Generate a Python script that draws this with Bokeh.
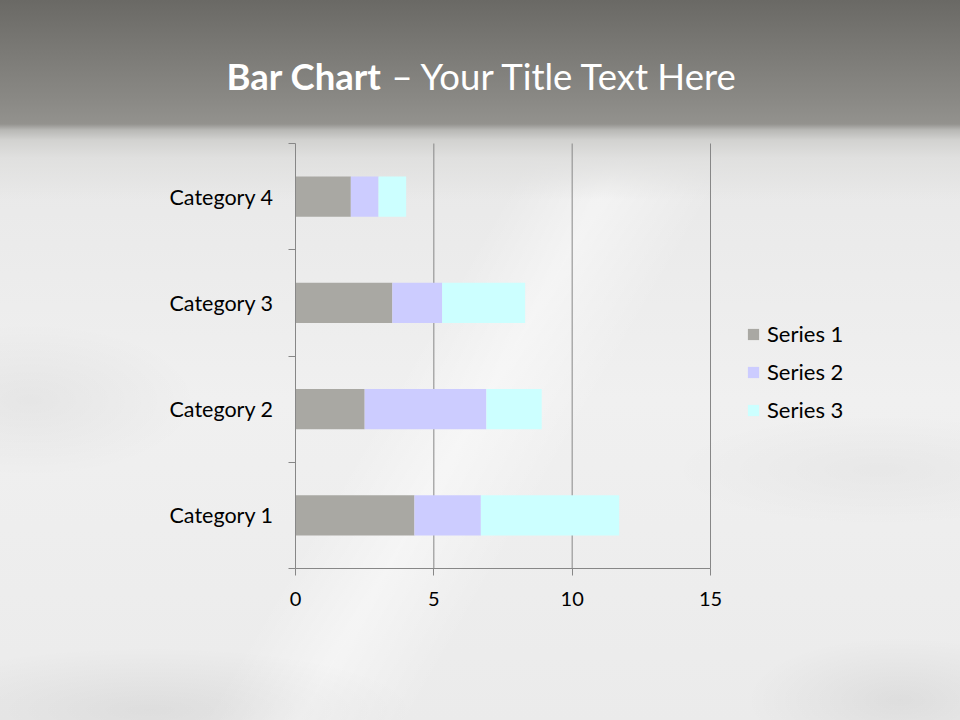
from bokeh.plotting import figure
from bokeh.models import (Range1d, FixedTicker, Label, Legend, LegendItem,
                          ColumnDataSource, GlobalInlineStyleSheet)
from bokeh.embed import file_html
from bokeh.resources import INLINE

# ---- data ----
categories = ["Category 1", "Category 2", "Category 3", "Category 4"]
series_names = ["Series 1", "Series 2", "Series 3"]
series_1 = [4.3, 2.5, 3.5, 2.0]
series_2 = [2.4, 4.4, 1.8, 1.0]
series_3 = [5.0, 2.0, 3.0, 1.0]
x_ticks = [0, 5, 10, 15]
title_bold = "Bar Chart"
title_rest = "\u2013 Your Title Text Here"

# ---- style / layout constants ----
colors = ["#a9a8a3", "#ccccff", "#ccffff"]
AXIS = "#878787"
FONT = "Lato"
W, H = 960, 720
FL, FR, FT, FB = 295, 710, 143, 568  # plot-area edges in canvas pixels

n_cat = len(categories)
x_lo, x_hi = x_ticks[0], x_ticks[-1]
px_x = (FR - FL) / (x_hi - x_lo)
px_y = (FB - FT) / n_cat

src = ColumnDataSource(data={
    "y": [i + 0.5 for i in range(n_cat)],
    series_names[0]: series_1,
    series_names[1]: series_2,
    series_names[2]: series_3,
})

# the frame covers the whole canvas; ranges are chosen so that the
# data area lands on the plot-area pixels
p = figure(width=W, height=H, output_backend="svg", toolbar_location=None,
           x_range=Range1d(x_lo - FL / px_x, x_hi + (W - FR) / px_x),
           y_range=Range1d(0 - (H - FB) / px_y, n_cat + FT / px_y),
           min_border=0)
p.title.visible = False

# vertical gridlines (at the x ticks, spanning the category band)
grid_x = x_ticks[1:]
p.segment(x0=grid_x, y0=[0] * len(grid_x), x1=grid_x, y1=[n_cat] * len(grid_x),
          line_color=AXIS, line_width=1)

renderers = p.hbar_stack(series_names, y="y", height=0.38, color=colors,
                         line_color=None, source=src)

# axes
xa = p.xaxis[0]
xa.fixed_location = 0
xa.bounds = (x_lo, x_hi)
xa.ticker = FixedTicker(ticks=x_ticks)
xa.axis_line_color = AXIS
xa.major_tick_line_color = AXIS
xa.major_tick_out = 7
xa.major_tick_in = 0
xa.minor_tick_line_color = None
xa.major_label_standoff = 16
xa.major_label_text_font = FONT
xa.major_label_text_font_size = "20px"
xa.major_label_text_color = "#000000"

centers = [i + 0.5 for i in range(n_cat)]
bounds = [float(i) for i in range(n_cat + 1)]
ya = p.yaxis[0]
ya.fixed_location = 0
ya.bounds = (0, n_cat)
ya.ticker = FixedTicker(ticks=centers, minor_ticks=bounds)
ya.major_label_overrides = {c: name for c, name in zip(centers, categories)}
ya.axis_line_color = AXIS
ya.major_tick_line_color = None
ya.major_tick_out = 0
ya.major_tick_in = 0
ya.minor_tick_line_color = AXIS
ya.minor_tick_out = 7
ya.minor_tick_in = 0
ya.major_label_standoff = 15
ya.major_label_text_font = FONT
ya.major_label_text_font_size = "21.5px"
ya.major_label_text_color = "#000000"

p.xgrid.visible = False
p.ygrid.visible = False

p.outline_line_color = None
p.background_fill_color = None
p.border_fill_color = None

# legend
legend = Legend(items=[LegendItem(label=n, renderers=[r])
                       for n, r in zip(series_names, renderers)],
                location=(746, H - 423),
                margin=0, padding=0, spacing=11,
                glyph_width=14, glyph_height=14, label_height=26,
                label_standoff=7, label_text_font=FONT,
                label_text_font_size="22px", label_text_color="#000000",
                background_fill_alpha=0, border_line_color=None)
p.add_layout(legend)

# title (two runs: bold + regular)
p.add_layout(Label(x=226, y=H - 75, x_units="screen", y_units="screen",
                   text=title_bold, text_font=FONT, text_font_style="bold",
                   text_font_size="36.5px", text_color="#ffffff",
                   text_baseline="middle", text_align="left"))
p.add_layout(Label(x=391, y=H - 75, x_units="screen", y_units="screen",
                   text=title_rest, text_font=FONT, text_font_style="normal",
                   text_font_size="36.5px", text_color="#ffffff",
                   text_baseline="middle", text_align="left"))

bg = ", ".join([
    "linear-gradient(180deg, #6a6965 0px, #777672 40px, #8a8985 100px, #93928e 124px, "
    "#b8b8b5 130px, #d2d2d0 140px, #e0e0df 158px, rgba(236,236,236,0) 200px)",
    "radial-gradient(ellipse 240px 110px at 30px 400px, rgba(0,0,0,0.045), rgba(0,0,0,0) 70%)",
    "radial-gradient(ellipse 380px 90px at 150px 710px, rgba(0,0,0,0.06), rgba(0,0,0,0) 70%)",
    "radial-gradient(ellipse 220px 90px at 900px 700px, rgba(0,0,0,0.06), rgba(0,0,0,0) 70%)",
    "radial-gradient(ellipse 300px 80px at 880px 470px, rgba(0,0,0,0.03), rgba(0,0,0,0) 70%)",
    "linear-gradient(120deg, rgba(255,255,255,0) 45%, rgba(255,255,255,0.45) 52%, rgba(255,255,255,0) 60%)",
    "linear-gradient(180deg, #e8e8e8 150px, #f0f0f0 400px, #ebebeb 720px)",
])
p.styles = {"background": bg}
p.stylesheets = [GlobalInlineStyleSheet(css="html, body { margin: 0 !important; padding: 0; overflow: hidden; }")]

open("out.html", "w").write(file_html(p, INLINE))
